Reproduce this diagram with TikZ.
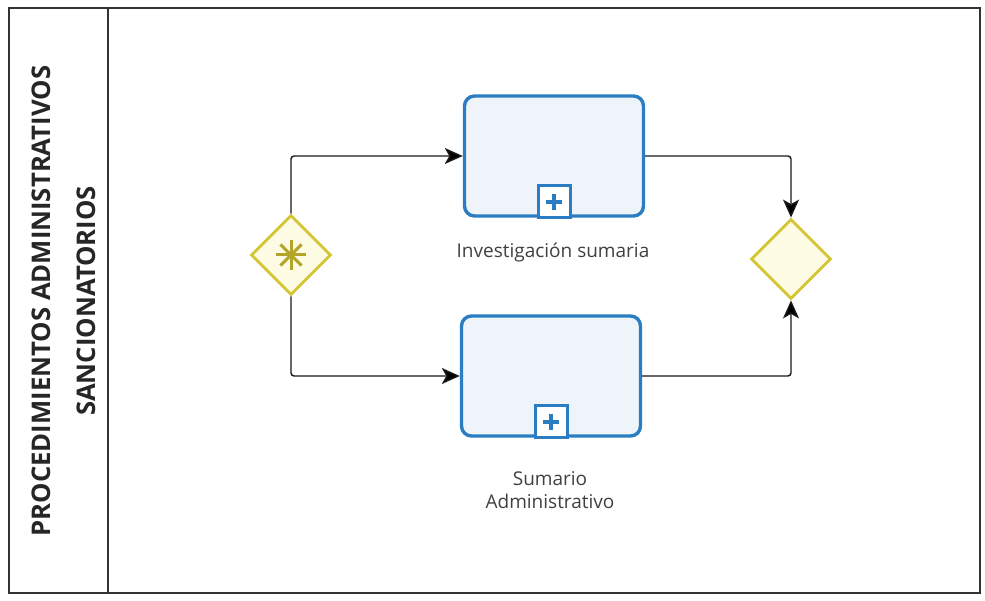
\documentclass[tikz,border=0pt]{standalone}
\usepackage{fontspec}
\setmainfont{Open Sans}
\usetikzlibrary{arrows.meta,shapes.geometric,calc}
\definecolor{taskblue}{HTML}{2A7DC2}
\definecolor{taskfill}{HTML}{EFF4FA}
\definecolor{gateline}{HTML}{D4C535}
\definecolor{gatefill}{HTML}{FDFBE3}
\definecolor{gatemark}{HTML}{B3A42A}
\tikzset{
  x=1pt, y=-1pt,
  lane/.style={draw=black!80, line width=1.6pt},
  task/.style={draw=taskblue, fill=taskfill, line width=3.4pt, rounded corners=10pt,
    minimum width=179pt, minimum height=120pt, inner sep=0pt},
  gate/.style={diamond, draw=gateline, fill=gatefill, line width=2.8pt, aspect=1,
    minimum width=80pt, minimum height=80pt, inner sep=0pt},
  flow/.style={draw=black!90, line width=1.4pt, rounded corners=3pt,
    -{Stealth[length=18pt,width=16pt,inset=4.5pt,fill=black]}},
  lbl/.style={font=\fontsize{19}{23}\selectfont, text=black!75, align=center},
  plusbox/.style={draw=taskblue, fill=white, line width=3pt, minimum size=32pt, inner sep=0pt}
}
\begin{document}
\begin{tikzpicture}
\useasboundingbox (0,0) rectangle (985,601);
% pool and lane header
\draw[lane] (9,8) rectangle (980,593);
\draw[lane] (108,8) -- (108,593);
\node[rotate=90, font=\bfseries\fontsize{25.7}{45}\selectfont, align=center, text=black!85]
  (title) at (64,301) {PROCEDIMIENTOS ADMINISTRATIVOS\\SANCIONATORIOS};

% gateways
\node[gate] (g1) at (291,255) {};
\node[gate] (g2) at (791,259) {};
\foreach \a in {0,45,90,135}
  \draw[gatemark, line width=3pt] ($(g1)+(\a:15pt)$) -- ($(g1)+(\a+180:15pt)$);

% sub-process tasks
\node[task] (t1) at (554,156) {};
\node[task] (t2) at (551,376) {};
\foreach \t in {t1,t2}{
  \node[plusbox, anchor=south] (\t p) at ($(\t.south)+(0,-1.7pt)$) {};
  \draw[taskblue, line width=4.5pt] ($(\t p)+(-8pt,0)$) -- ($(\t p)+(8pt,0)$);
  \draw[taskblue, line width=4.5pt] ($(\t p)+(0,-8pt)$) -- ($(\t p)+(0,8pt)$);
}

% labels
\node[lbl] (l1) at (553,253) {Investigación sumaria};
\node[lbl] (l2) at (550,490) {Sumario\\Administrativo};

% sequence flows
\draw[flow] (g1.north) |- (t1.west);
\draw[flow] (g1.south) |- (t2.west);
\draw[flow] (t1.east) -| (g2.north);
\draw[flow] (t2.east) -| (g2.south);
\end{tikzpicture}
\end{document}
